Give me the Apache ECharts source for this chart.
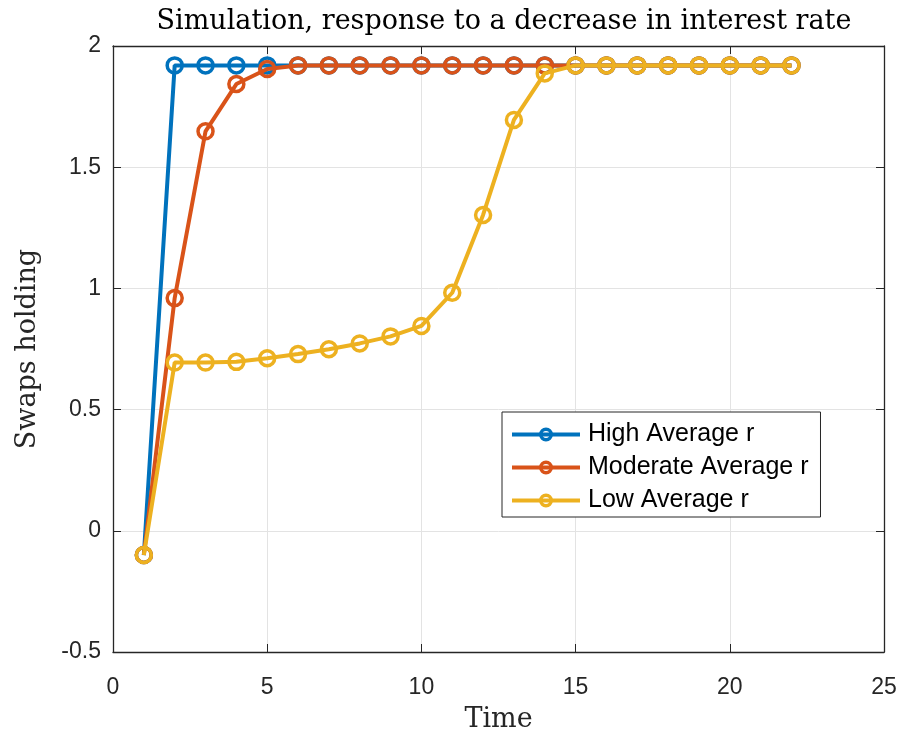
<!DOCTYPE html>
<html>
<head>
<meta charset="utf-8">
<script src="https://cdn.jsdelivr.net/npm/echarts@6/dist/echarts.min.js"></script>
<style>html,body{margin:0;padding:0;background:#fff;}#c{width:906px;height:732px;}</style>
</head>
<body>
<div id="c"></div>
<script>
var time = [1,2,3,4,5,6,7,8,9,10,11,12,13,14,15,16,17,18,19,20,21,22];
var highAvg = [-0.1,1.92,1.92,1.92,1.92,1.92,1.92,1.92,1.92,1.92,1.92,1.92,1.92,1.92,1.92,1.92,1.92,1.92,1.92,1.92,1.92,1.92];
var moderateAvg = [-0.1,0.96,1.648,1.843,1.905,1.92,1.92,1.92,1.92,1.92,1.92,1.92,1.92,1.92,1.92,1.92,1.92,1.92,1.92,1.92,1.92,1.92];
var lowAvg = [-0.1,0.694,0.694,0.697,0.712,0.729,0.749,0.773,0.802,0.845,0.982,1.303,1.695,1.887,1.92,1.92,1.92,1.92,1.92,1.92,1.92,1.92];
var seriesNames = ['High Average r','Moderate Average r','Low Average r'];
var seriesColors = ['#0072BD','#D95319','#EDB120'];
var xTicks = [0,5,10,15,20,25];
var yTicks = [-0.5,0,0.5,1,1.5,2];

function pairs(ys){ return time.map(function(t,i){ return [t, ys[i]]; }); }
var dataSets = [highAvg, moderateAvg, lowAvg];
var axisCol = '#262626';
var serif = 'DejaVu Serif';

var chart = echarts.init(document.getElementById('c'), null, {renderer:'canvas'});
var series = dataSets.map(function(d,i){
  return {
    name: seriesNames[i], type: 'line', data: pairs(d), xAxisIndex: 0, yAxisIndex: 0,
    symbol: 'circle', symbolSize: 15, showAllSymbol: true,
    lineStyle: {color: seriesColors[i], width: 4},
    itemStyle: {color: 'rgba(255,255,255,0)', borderColor: seriesColors[i], borderWidth: 3.5},
    emphasis: {disabled: true}, animation: false, z: 2 + i
  };
});
var fmt = function(v){ return String(v); };
var tickCommon = {show: true, inside: true, length: 8, lineStyle: {color: axisCol, width: 1}};
var lineCommon = {show: true, onZero: false, lineStyle: {color: axisCol, width: 1.3}};
chart.setOption({
  animation: false,
  backgroundColor: '#ffffff',
  title: {
    text: 'Simulation, response to a decrease in interest rate',
    left: 499, top: 3, textAlign: 'center',
    textStyle: {fontFamily: serif, fontSize: 27, fontWeight: 'normal', color: '#000'}
  },
  grid: {left: 113, right: 22, top: 46, bottom: 80, containLabel: false, outerBoundsMode: 'none', show: false},
  legend: {
    data: seriesNames, orient: 'vertical', left: 502, top: 412,
    itemWidth: 68, itemHeight: 13, itemGap: 8,
    padding: [10, 12, 4, 8],
    lineStyle: {width: 4},
    itemStyle: {borderWidth: 3.5},
    backgroundColor: '#fff', borderColor: axisCol, borderWidth: 1, borderRadius: 0,
    textStyle: {fontFamily: 'Liberation Sans', fontSize: 25, color: '#000', lineHeight: 25, padding: [0,0,0,3]}
  },
  xAxis: [{
    type: 'value', min: 0, max: 25, interval: 5, position: 'bottom',
    name: 'Time', nameLocation: 'middle', nameGap: 54,
    nameTextStyle: {fontFamily: serif, fontSize: 27, color: axisCol},
    axisLine: lineCommon, axisTick: tickCommon,
    axisLabel: {fontFamily: 'Liberation Sans', fontSize: 23, color: axisCol, margin: 24, formatter: fmt},
    splitLine: {show: true, lineStyle: {color: '#e3e3e3', width: 1}}
  },{
    type: 'value', min: 0, max: 25, interval: 5, position: 'top',
    axisLine: lineCommon, axisTick: tickCommon,
    axisLabel: {show: false}, splitLine: {show: false}
  }],
  yAxis: [{
    type: 'value', min: -0.5, max: 2, interval: 0.5, position: 'left',
    name: 'Swaps holding', nameLocation: 'middle', nameGap: 72, nameRotate: 90,
    nameTextStyle: {fontFamily: serif, fontSize: 27, color: axisCol},
    axisLine: lineCommon, axisTick: tickCommon,
    axisLabel: {fontFamily: 'Liberation Sans', fontSize: 23, color: axisCol, margin: 12, formatter: fmt},
    splitLine: {show: true, lineStyle: {color: '#e3e3e3', width: 1}}
  },{
    type: 'value', min: -0.5, max: 2, interval: 0.5, position: 'right',
    axisLine: lineCommon, axisTick: tickCommon,
    axisLabel: {show: false}, splitLine: {show: false}
  }],
  series: series
});
</script>
</body>
</html>
